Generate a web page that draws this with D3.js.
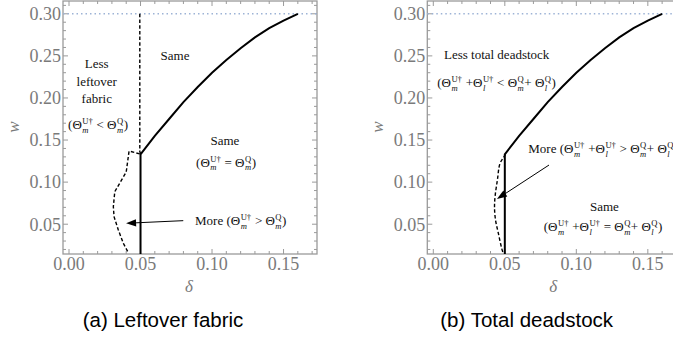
<!DOCTYPE html>
<html>
<head>
<meta charset="utf-8">
<script src="https://cdn.jsdelivr.net/npm/d3@7"></script>
<style>
  body { margin: 0; background: #fff; }
  svg { display: block; }
  .serif { font-family: 'Liberation Serif', 'Times New Roman', Times, 'DejaVu Serif', serif; }
</style>
</head>
<body>
<script>
// boundary where the solid curve sits (same in both panels)
var solidDelta = [0.0500, 0.0500, 0.0600, 0.0700, 0.0800, 0.0900, 0.1000, 0.1100, 0.1200, 0.1300, 0.1400, 0.1500, 0.1600];
var solidW     = [0.0146, 0.1330, 0.1550, 0.1750, 0.1950, 0.2130, 0.2300, 0.2450, 0.2590, 0.2720, 0.2830, 0.2920, 0.3000];

// dashed boundary, panel (a)
var dashADelta = [0.0495, 0.0495, 0.0505, 0.0420, 0.0400, 0.0320, 0.0310, 0.0315, 0.0345, 0.0380, 0.0415];
var dashAW     = [0.3000, 0.1360, 0.1330, 0.1370, 0.1120, 0.0886, 0.0708, 0.0589, 0.0431, 0.0273, 0.0160];

// dashed boundary, panel (b)
var dashBDelta = [0.0505, 0.0490, 0.0466, 0.0448, 0.0432, 0.0428, 0.0435, 0.0455, 0.0478, 0.0490];
var dashBW     = [0.1330, 0.1290, 0.1220, 0.1025, 0.0830, 0.0700, 0.0550, 0.0390, 0.0214, 0.0150];

var deltaTicks = [0, 0.05, 0.10, 0.15];
var wTicks = [0.05, 0.10, 0.15, 0.20, 0.25, 0.30];
var wCap = 0.30;

var W = 673, H = 339;
var svg = d3.select('body').append('svg').attr('width', W).attr('height', H);

function measure(str, size, italic){
    var t = svg.append('text').attr('class', 'serif').style('font-size', size + 'px')
        .style('font-style', italic ? 'italic' : 'normal').attr('xml:space', 'preserve').text(str);
    var w = t.node().getComputedTextLength();
    t.remove();
    return w;
}

// one text element, stacked sub/superscripts done with tspans; parts: strings or {sub, sup}
function mathText(g, x, y, parts, anchor, size){
    var small = size * 0.66, subOff = 3.5, supOff = -5;
    var total = 0;
    parts.forEach(function(p){
        if (typeof p === 'string') total += measure(p, size, false);
        else total += Math.max(measure(p.sub, small, true), measure(p.sup, small, false)) + 1;
    });
    var x0 = anchor === 'middle' ? x - total / 2 : x;
    var txt = g.append('text').attr('class', 'serif').attr('x', x0).attr('y', y)
        .style('font-size', size + 'px').attr('fill', '#111').attr('xml:space', 'preserve');
    var base = 0, padDx = 0;
    parts.forEach(function(p){
        if (typeof p === 'string') {
            txt.append('tspan').attr('dx', padDx).attr('dy', -base).text(p);
            base = 0; padDx = 0;
        } else {
            var ws = measure(p.sub, small, true), wp = measure(p.sup, small, false);
            txt.append('tspan').attr('dx', padDx + 0.5).attr('dy', subOff - base)
                .style('font-size', small + 'px').style('font-style', 'italic').text(p.sub);
            txt.append('tspan').attr('dx', -ws).attr('dy', supOff - subOff)
                .style('font-size', small + 'px').text(p.sup);
            base = supOff;
            padDx = Math.max(ws, wp) - wp + 0.5;
        }
    });
    return txt;
}

function drawPanel(ox, cfg){
    var x = d3.scaleLinear().domain([-0.0042, 0.1734]).range([ox, ox + 254]);
    var y = d3.scaleLinear().domain([0.0146, 0.3152]).range([254, 1]);
    var g = svg.append('g');
    var frameCol = '#9a9a9a';

    // minor + major ticks, inward on all four sides
    var minorX = d3.range(0, 0.1734, 0.01);
    var minorY = d3.range(0.02, 0.3152, 0.01);
    minorX.forEach(function(d){
        var major = Math.abs(Math.round(d * 100) % 5) === 0;
        var len = major ? 5 : 3;
        g.append('line').attr('x1', x(d)).attr('x2', x(d)).attr('y1', 254).attr('y2', 254 - len)
            .attr('stroke', frameCol).attr('stroke-width', 1);
        g.append('line').attr('x1', x(d)).attr('x2', x(d)).attr('y1', 1).attr('y2', 1 + len)
            .attr('stroke', frameCol).attr('stroke-width', 1);
    });
    minorY.forEach(function(d){
        var major = Math.abs(Math.round(d * 100) % 5) === 0;
        var len = major ? 5 : 3;
        g.append('line').attr('x1', ox).attr('x2', ox + len).attr('y1', y(d)).attr('y2', y(d))
            .attr('stroke', frameCol).attr('stroke-width', 1);
        g.append('line').attr('x1', ox + 254).attr('x2', ox + 254 - len).attr('y1', y(d)).attr('y2', y(d))
            .attr('stroke', frameCol).attr('stroke-width', 1);
    });
    g.append('rect').attr('x', ox).attr('y', 1).attr('width', 254).attr('height', 253)
        .attr('fill', 'none').attr('stroke', frameCol).attr('stroke-width', 1.3);

    // tick labels
    g.selectAll('.xl').data(deltaTicks).enter().append('text').attr('class', 'serif')
        .attr('x', function(d){ return x(d); }).attr('y', 270)
        .attr('text-anchor', 'middle').style('font-size', '18px')
        .attr('fill', '#7a7a7a').text(function(d){ return d3.format('.2f')(d); });
    g.selectAll('.yl').data(wTicks).enter().append('text').attr('class', 'serif')
        .attr('x', ox - 2).attr('y', function(d){ return y(d) + 6.3; })
        .attr('text-anchor', 'end').style('font-size', '18px')
        .attr('fill', '#7a7a7a').text(function(d){ return d3.format('.2f')(d); });

    // axis titles
    g.append('text').attr('class', 'serif').attr('transform', 'translate(' + (ox - 44) + ',127) rotate(-90)')
        .attr('text-anchor', 'middle').style('font-size', '17px')
        .style('font-style', 'italic').attr('fill', '#7a7a7a').text('w');
    g.append('text').attr('class', 'serif').attr('x', ox + 126).attr('y', 292)
        .attr('text-anchor', 'middle').style('font-size', '17px')
        .style('font-style', 'italic').attr('fill', '#7a7a7a').text('δ');

    // cap line at w = 0.30
    g.append('line').attr('x1', ox).attr('x2', ox + 254).attr('y1', y(wCap)).attr('y2', y(wCap))
        .attr('stroke', '#9db3d6').attr('stroke-width', 1.5).attr('stroke-dasharray', '1.5,3');

    var line = d3.line().x(function(d){ return x(d[0]); }).y(function(d){ return y(d[1]); });

    g.append('path').attr('d', line.curve(cfg.dashCurve)(d3.zip(cfg.dashDelta, cfg.dashW)))
        .attr('fill', 'none').attr('stroke', '#000').attr('stroke-width', 1.4)
        .attr('stroke-dasharray', '3.5,2.2');
    g.append('path').attr('d', line.curve(d3.curveLinear)(d3.zip(solidDelta, solidW)))
        .attr('fill', 'none').attr('stroke', '#000').attr('stroke-width', 2);

    // arrow
    var a = cfg.arrow;
    var x1 = x(a[0]), y1 = y(a[1]), x2 = x(a[2]), y2 = y(a[3]);
    var ang = Math.atan2(y2 - y1, x2 - x1), hl = 10, hw = 3.6;
    var bx = x2 - hl * Math.cos(ang), by = y2 - hl * Math.sin(ang);
    g.append('line').attr('x1', x1).attr('y1', y1).attr('x2', bx).attr('y2', by)
        .attr('stroke', '#000').attr('stroke-width', 1);
    g.append('path').attr('d', 'M' + x2 + ',' + y2 +
        'L' + (bx + hw * Math.sin(ang)) + ',' + (by - hw * Math.cos(ang)) +
        'L' + (bx - hw * Math.sin(ang)) + ',' + (by + hw * Math.cos(ang)) + 'Z').attr('fill', '#000');

    // annotations
    cfg.labels.forEach(function(l){
        mathText(g, x(l.d), y(l.w), l.parts, l.anchor, 13);
    });

    // caption
    g.append('text').attr('x', cfg.capX).attr('y', 327).attr('text-anchor', 'middle')
        .style('font-family', "'Liberation Sans', Arial, sans-serif").style('font-size', '20.5px')
        .attr('fill', '#000').text(cfg.caption);
}

var mQ = {sub: 'm', sup: 'Q'}, mU = {sub: 'm', sup: 'U†'};
var lQ = {sub: 'l', sup: 'Q'}, lU = {sub: 'l', sup: 'U†'};

drawPanel(63, {
    dashDelta: dashADelta, dashW: dashAW, dashCurve: d3.curveLinear,
    arrow: [0.0799, 0.0542, 0.0399, 0.0511],
    caption: '(a) Leftover fabric', capX: 163,
    labels: [
        {d: 0.0194, w: 0.2355, anchor: 'middle', parts: ['Less']},
        {d: 0.0194, w: 0.2141, anchor: 'middle', parts: ['leftover']},
        {d: 0.0194, w: 0.1940, anchor: 'middle', parts: ['fabric']},
        {d: 0.0203, w: 0.1630, anchor: 'middle', parts: ['(Θ', mU, ' < Θ', mQ, ')']},
        {d: 0.0741, w: 0.2450, anchor: 'middle', parts: ['Same']},
        {d: 0.1090, w: 0.1440, anchor: 'middle', parts: ['Same']},
        {d: 0.1098, w: 0.1180, anchor: 'middle', parts: ['(Θ', mU, ' = Θ', mQ, ')']},
        {d: 0.0881, w: 0.0490, anchor: 'start', parts: ['More (Θ', mU, ' > Θ', mQ, ')']}
    ]
});

drawPanel(427.3, {
    dashDelta: dashBDelta, dashW: dashBW, dashCurve: d3.curveCatmullRom,
    arrow: [0.0809, 0.1203, 0.0445, 0.0799],
    caption: '(b) Total deadstock', capX: 526.7,
    labels: [
        {d: 0.0443, w: 0.2460, anchor: 'middle', parts: ['Less total deadstock']},
        {d: 0.0442, w: 0.2130, anchor: 'middle', parts: ['(Θ', mU, ' +Θ', lU, ' < Θ', mQ, '+ Θ', lQ, ')']},
        {d: 0.0664, w: 0.1346, anchor: 'start', parts: ['More (Θ', mU, ' +Θ', lU, ' > Θ', mQ, '+ Θ', lQ, ')']},
        {d: 0.1196, w: 0.0657, anchor: 'middle', parts: ['Same']},
        {d: 0.1187, w: 0.0419, anchor: 'middle', parts: ['(Θ', mU, ' +Θ', lU, ' = Θ', mQ, '+ Θ', lQ, ')']}
    ]
});
</script>
</body>
</html>
